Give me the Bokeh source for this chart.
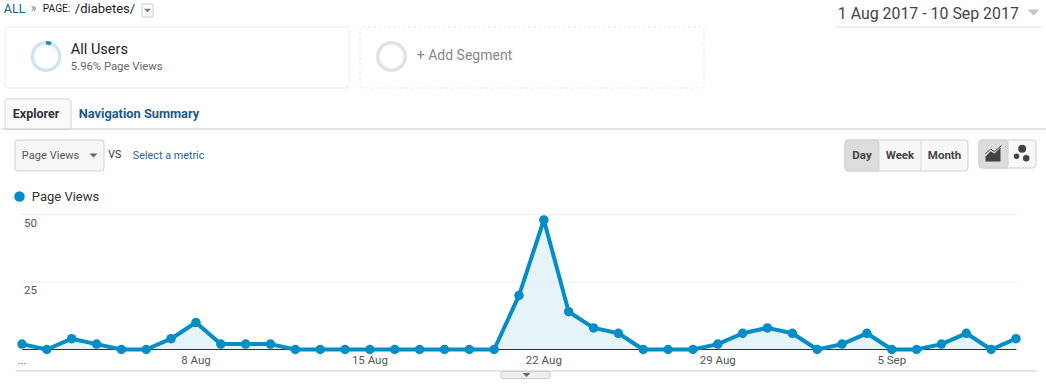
from bokeh.core.properties import value
from bokeh.embed import file_html
from bokeh.models import BoxAnnotation, FixedTicker, LinearAxis, Range1d
from bokeh.plotting import figure
from bokeh.resources import INLINE

# ---- data ----
page_views = [2, 0, 4, 2, 0, 0, 4, 10, 2, 2, 2, 0, 0, 0, 0, 0, 0, 0, 0, 0, 20,
              48, 14, 8, 6, 0, 0, 0, 2, 6, 8, 6, 0, 2, 6, 0, 0, 2, 6, 0, 4]
day_index = list(range(len(page_views)))
x_tick_days = [0, 7, 14, 21, 28, 35]
x_tick_labels = ["...", "8 Aug", "15 Aug", "22 Aug", "29 Aug", "5 Sep"]
y_ticks = [25, 50]
y_tick_labels = ["25", "50"]
segment_share = 5.96

# ---- geometry of the canvas ----
W, H = 1046, 384
X0, DX = 21.5, 24.85      # px of the first day, px per day
Y0, DY = 349.0, 2.70      # px of zero, px per view

BLUE = "#058dc7"
LINK = "#1c5a8c"
FONT = value("Roboto")

p = figure(width=W, height=H, toolbar_location=None, output_backend="svg",
           x_range=Range1d((0 - X0) / DX, (W - X0) / DX),
           y_range=Range1d((Y0 - H) / DY, Y0 / DY),
           min_border=0, outline_line_color=None, background_fill_color="white",
           x_axis_type=None, y_axis_type=None)
p.grid.visible = False
p.extra_x_ranges["px"] = Range1d(0, W)
p.extra_y_ranges["py"] = Range1d(H, 0)
p.styles = {"position": "absolute", "left": "0", "top": "0"}
PX = dict(x_range_name="px", y_range_name="py")


def txt(x, y, s, size=12, color="#333333", style="normal", align="left"):
    dx = -0.7 if align == "left" else 0
    p.text([x + dx], [y - 1], text=[s], text_font=FONT, text_font_size=f"{size}px",
           text_color=color, text_font_style=style, text_align=align,
           text_baseline="middle", **PX)


def box(l, r, t, b, fill="white", line="#dddddd", dash="solid", radius=3):
    p.add_layout(BoxAnnotation(left=l, right=r, top=t, bottom=b, fill_color=fill, fill_alpha=1,
                               line_color=line, line_alpha=1, line_width=1, line_dash=dash,
                               border_radius=radius, level="underlay", **PX))


def hline(x0, x1, y, color="#cccccc", width=1):
    p.segment([x0], [y], [x1], [y], line_color=color, line_width=width, **PX)


def tri(x, y, w=8, color="#777777"):
    p.patch([x - w / 2, x + w / 2, x], [y - w / 4, y - w / 4, y + w / 4],
            fill_color=color, line_color=None, **PX)


# ---- breadcrumb ----
txt(4, 8.5, "ALL", 12.5, LINK)
txt(31, 8.5, "»", 12, "#777777")
txt(43, 9, "PAGE:", 10.2, "#222222")
txt(75, 8.5, "/diabetes/", 13, "#222222")
box(141.5, 152.5, 3.5, 16.5, radius=1, line="#cccccc")
tri(147, 10, 7, "#777777")

# ---- segment cards ----
box(4.5, 348.5, 26.5, 87.5, line="#ebebeb")
box(359.5, 703.5, 26.5, 87.5, line="#e6e6e6", dash="3 2")
p.annulus([45.5], [56], inner_radius=12, outer_radius=15.5, fill_color="#cfe6f2", line_color=None, **PX)
p.annular_wedge([45.5], [56], inner_radius=12, outer_radius=15.5, start_angle=1.5708,
                end_angle=1.5708 - segment_share / 100 * 6.2832, direction="clock",
                start_angle_units="rad", end_angle_units="rad",
                fill_color="#1d8ab5", line_color=None, **PX)
txt(71, 49.5, "All Users", 14.5, "#222222")
txt(71, 67, f"{segment_share}% Page Views", 11.3, "#666666")
p.annulus([391], [56], inner_radius=12, outer_radius=15.5, fill_color="#e3e3e3", line_color=None, **PX)
txt(417, 55, "+ Add Segment", 14, "#888888")

# ---- tabs ----
hline(0, W, 128.5, "#cccccc")
box(4.5, 70.5, 98.5, 129, fill="#fafafa", line="#d5d5d5", radius=2)
txt(13, 113.5, "Explorer", 12.5, "#333333", "bold")
txt(79, 113.5, "Navigation Summary", 12.8, LINK, "bold")

# ---- metric selector ----
box(14.5, 103.5, 139.5, 170.5, fill="#f6f6f6", line="#d0d0d0")
txt(22, 155.5, "Page Views", 11.1, "#555555")
tri(93, 155, 8, "#666666")
txt(108.5, 155, "VS", 10.5, "#333333")
txt(133, 155.5, "Select a metric", 10.8, "#2a6496")

# ---- date range ----
txt(838, 13.5, "1 Aug 2017 - 10 Sep 2017", 15.9, "#444444")
tri(1033, 12, 12, "#c4c4c4")
hline(835, 1041, 26.5, "#eeeeee", 2)

# ---- period buttons ----
box(844.5, 967.5, 139.5, 170.5, fill="#f8f8f8", line="#d0d0d0")
box(844.5, 878.5, 139.5, 170.5, fill="#dcdcdc", line="#d0d0d0")
p.segment([920.5], [140], [920.5], [170], line_color="#d5d5d5", **PX)
txt(861.5, 155.5, "Day", 11.5, "#444444", "bold", "center")
txt(899.5, 155.5, "Week", 11.5, "#444444", "bold", "center")
txt(944, 155.5, "Month", 11.5, "#444444", "bold", "center")

# ---- chart type buttons ----
box(978.5, 1035.5, 139.5, 167.5, fill="#f8f8f8", line="#d0d0d0")
box(978.5, 1007.5, 139.5, 167.5, fill="#dcdcdc", line="#d0d0d0")
p.patch([985, 990, 994, 1000, 1000, 985], [156, 151, 153, 147, 161, 161], fill_color="#444444", line_color=None, **PX)
p.line([985, 990, 994, 1001], [153, 149, 151, 145], line_color="#444444", line_width=1, **PX)
p.scatter([1021.7, 1016, 1025.7], [148.3, 155.7, 157.7], size=[8, 5.5, 6.5], fill_color="#444444", line_color=None, **PX)

# ---- legend ----
p.scatter([19], [196], size=10.5, fill_color=BLUE, line_color=None, **PX)
txt(32, 196.5, "Page Views", 13, "#333333")

# ---- chart frame ----
hline(15, 1036, 370.5, "#cccccc")
box(500.5, 549.5, 371, 378, fill="#eeeeee", line="#cccccc", radius=2)
tri(526, 374.5, 8, "#666666")

# ---- chart ----
p.segment(x0=[(20 - X0) / DX] * len(y_ticks), y0=y_ticks, x1=[day_index[-1] + 0.04] * len(y_ticks), y1=y_ticks,
          line_color="#eeeeee", line_width=1)
p.text(x=[0.08] * len(y_ticks), y=y_ticks, text=y_tick_labels, y_offset=8, text_font=FONT,
       text_font_size="11.5px", text_color="#555555", text_baseline="middle")
p.varea(x=day_index, y1=[0] * len(page_views), y2=page_views, fill_color="#e6f3f9", level="image")
xaxis = LinearAxis(fixed_location=0, ticker=FixedTicker(ticks=x_tick_days),
                   major_label_overrides=dict(zip(x_tick_days, x_tick_labels)),
                   bounds=(day_index[0], day_index[-1]), major_tick_line_color=None,
                   minor_tick_line_color=None, axis_line_color="#333333", axis_line_width=1,
                   major_label_text_font="Roboto", major_label_text_font_size="11.5px",
                   major_label_text_color="#555555", major_label_standoff=-3, level="underlay")
p.add_layout(xaxis, "below")
p.line(day_index, page_views, line_color=BLUE, line_width=4, line_join="round")
p.scatter(day_index, page_views, size=9.5, fill_color=BLUE, line_color=None)

open("out.html", "w").write(file_html(p, INLINE))
